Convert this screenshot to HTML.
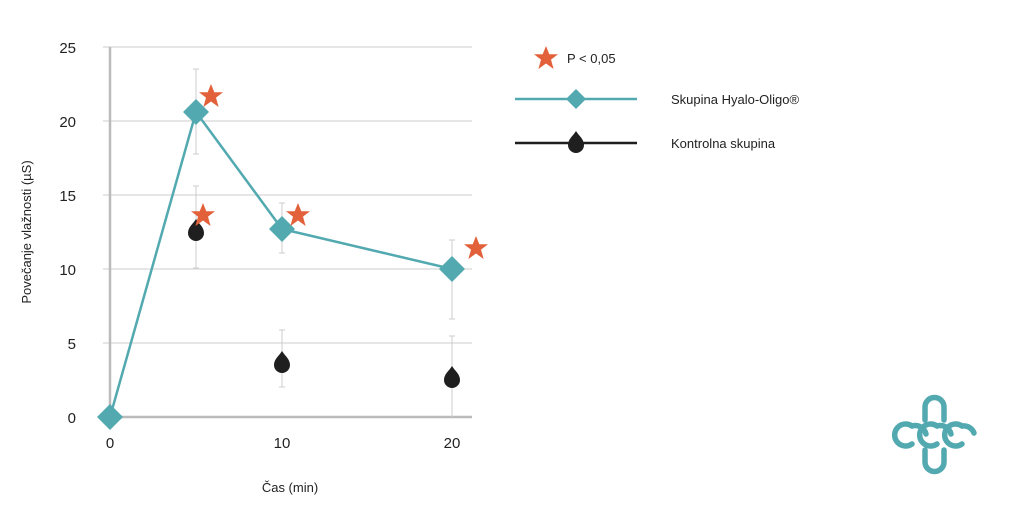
<!DOCTYPE html>
<html><head><meta charset="utf-8"><style>
body{margin:0;background:#fff}
svg text{font-family:"Liberation Sans",sans-serif;fill:#222}
</style></head><body>
<svg width="1024" height="517" viewBox="0 0 1024 517">
<defs>
<g id="st"><polygon points="0,-12 3.3,-3.8 12,-3.8 5,1.6 7.6,11 0,5.5 -7.6,11 -5,1.6 -12,-3.8 -3.3,-3.8" fill="#e2603a"/></g>
<g id="dm"><polygon points="0,-13 13,0 0,13 -13,0" fill="#52a9b0"/></g>
<g id="dm2"><polygon points="0,-10 10,0 0,10 -10,0" fill="#52a9b0"/></g>
<g id="dr"><path d="M0,-11 C3,-6 8,-3 8,3 A8,8 0 0 1 -8,3 C-8,-3 -3,-6 0,-11Z" fill="#1f1f1f"/></g>
</defs>
<g stroke="#d8d8d8" stroke-width="1.2">
<line x1="103" y1="47" x2="472" y2="47"/><line x1="103" y1="121" x2="472" y2="121"/>
<line x1="103" y1="195" x2="472" y2="195"/><line x1="103" y1="269" x2="472" y2="269"/>
<line x1="103" y1="343" x2="472" y2="343"/>
</g>
<g stroke="#bbb" stroke-width="2.5"><line x1="110" y1="47" x2="110" y2="417"/><line x1="110" y1="417" x2="472" y2="417"/></g>
<g stroke="#ccc" stroke-width="1">
<line x1="196" y1="69" x2="196" y2="154"/><line x1="193" y1="69" x2="199" y2="69"/><line x1="193" y1="154" x2="199" y2="154"/>
<line x1="196" y1="186" x2="196" y2="268"/><line x1="193" y1="186" x2="199" y2="186"/><line x1="193" y1="268" x2="199" y2="268"/>
<line x1="282" y1="203" x2="282" y2="253"/><line x1="279" y1="203" x2="285" y2="203"/><line x1="279" y1="253" x2="285" y2="253"/>
<line x1="282" y1="330" x2="282" y2="387"/><line x1="279" y1="330" x2="285" y2="330"/><line x1="279" y1="387" x2="285" y2="387"/>
<line x1="452" y1="240" x2="452" y2="319"/><line x1="449" y1="240" x2="455" y2="240"/><line x1="449" y1="319" x2="455" y2="319"/>
<line x1="452" y1="336" x2="452" y2="417"/><line x1="449" y1="336" x2="455" y2="336"/>
</g>
<polyline points="110,417 196,112 282,229 452,269" fill="none" stroke="#52a9b0" stroke-width="2.5"/>
<use href="#dm" x="110" y="417"/><use href="#dm" x="196" y="112"/><use href="#dm" x="282" y="229"/><use href="#dm" x="452" y="269"/>
<use href="#dr" x="196" y="230"/><use href="#dr" x="282" y="362"/><use href="#dr" x="452" y="377"/>
<use href="#st" x="211" y="96"/><use href="#st" x="203" y="215"/><use href="#st" x="298" y="215"/><use href="#st" x="476" y="248"/>
<g font-size="15" text-anchor="end"><text x="76" y="53">25</text><text x="76" y="127">20</text><text x="76" y="201">15</text><text x="76" y="275">10</text><text x="76" y="349">5</text><text x="76" y="423">0</text></g>
<g font-size="15" text-anchor="middle"><text x="110" y="448">0</text><text x="282" y="448">10</text><text x="452" y="448">20</text></g>
<text x="290" y="492" font-size="13" text-anchor="middle">Čas (min)</text>
<text transform="translate(31,232) rotate(-90)" font-size="13" text-anchor="middle">Povečanje vlažnosti (µS)</text>
<use href="#st" x="546" y="58"/><text x="567" y="63" font-size="13">P &lt; 0,05</text>
<line x1="515" y1="99" x2="637" y2="99" stroke="#52a9b0" stroke-width="2.5"/><use href="#dm2" x="576" y="99"/>
<text x="671" y="104" font-size="13">Skupina Hyalo-Oligo®</text>
<line x1="515" y1="143" x2="637" y2="143" stroke="#1f1f1f" stroke-width="2.5"/><use href="#dr" x="576" y="142"/>
<text x="671" y="148" font-size="13">Kontrolna skupina</text>
<g fill="none" stroke="#52a9b0" stroke-width="5.5" stroke-linecap="round">
<path d="M925,420 V407 A9.5,9.5 0 0 1 944,407 V420"/>
<path d="M925,450 V462 A9.5,9.5 0 0 0 944,462 V450"/>
<path d="M912,426 A11,11 0 1 0 912,444"/>
<path d="M937,426 A11,11 0 1 0 937,444"/>
<path d="M962,426 A11,11 0 1 0 962,444"/>
<path d="M912,426 A11,11 0 0 1 926,434"/>
<path d="M937,426 A11,11 0 0 1 951,434"/>
<path d="M962,426 A11,11 0 0 1 974,433"/>
</g>
</svg>
</body></html>
